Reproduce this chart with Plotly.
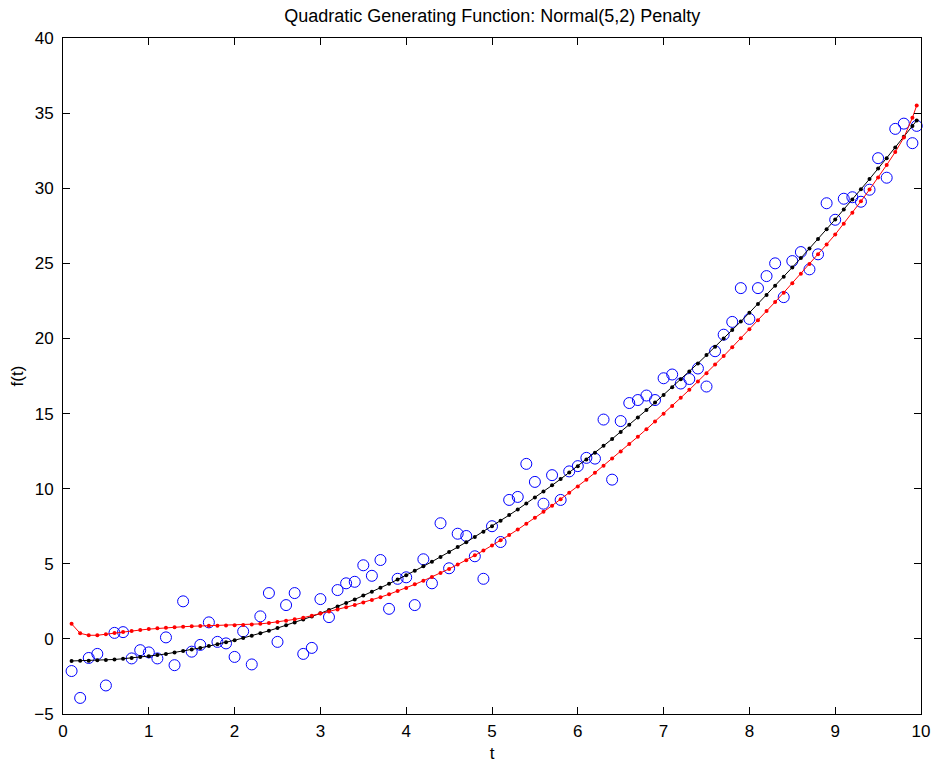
import plotly.graph_objects as go

t_vals = [round(0.1 * k, 2) for k in range(1, 100)] + [9.95]

observed = [
    -2.14, -3.93, -1.27, -1.00, -3.10, 0.40, 0.45, -1.30, -0.75, -0.90,
    -1.30, 0.10, -1.75, 2.50, -0.85, -0.40, 1.10, -0.20, -0.30, -1.20,
    0.50, -1.70, 1.50, 3.05, -0.20, 2.25, 3.05, -1.00, -0.60, 2.65,
    1.45, 3.25, 3.70, 3.80, 4.90, 4.20, 5.25, 2.00, 4.00, 4.10,
    2.25, 5.30, 3.70, 7.70, 4.70, 7.00, 6.85, 5.50, 4.00, 7.50,
    6.45, 9.25, 9.45, 11.65, 10.45, 9.00, 10.90, 9.25, 11.15, 11.50,
    12.05, 12.00, 14.60, 10.60, 14.50, 15.70, 15.90, 16.20, 15.90, 17.35,
    17.60, 17.00, 17.30, 18.00, 16.80, 19.15, 20.25, 21.10, 23.35, 21.30,
    23.35, 24.15, 25.00, 22.75, 25.15, 25.75, 24.60, 25.60, 29.00, 27.90,
    29.30, 29.40, 29.10, 29.90, 32.00, 30.70, 33.95, 34.30, 33.00, 34.15,
]

fit_plain = [
    -1.47, -1.46, -1.45, -1.43, -1.40, -1.37, -1.32, -1.27, -1.21, -1.15,
    -1.08, -1.00, -0.91, -0.81, -0.71, -0.60, -0.48, -0.36, -0.23, -0.09,
    0.06, 0.21, 0.37, 0.54, 0.72, 0.90, 1.09, 1.29, 1.49, 1.70,
    1.92, 2.15, 2.39, 2.63, 2.88, 3.13, 3.40, 3.67, 3.95, 4.23,
    4.53, 4.83, 5.14, 5.45, 5.78, 6.11, 6.44, 6.79, 7.14, 7.50,
    7.87, 8.24, 8.62, 9.01, 9.41, 9.81, 10.22, 10.64, 11.07, 11.50,
    11.94, 12.39, 12.85, 13.31, 13.78, 14.26, 14.74, 15.23, 15.73, 16.24,
    16.75, 17.28, 17.80, 18.34, 18.89, 19.44, 19.99, 20.56, 21.13, 21.71,
    22.30, 22.90, 23.50, 24.11, 24.73, 25.35, 25.98, 26.62, 27.27, 27.92,
    28.59, 29.25, 29.93, 30.61, 31.31, 32.00, 32.71, 33.42, 34.14, 34.51,
]

fit_penalty = [
    1.00, 0.37, 0.24, 0.24, 0.31, 0.39, 0.46, 0.53, 0.59, 0.65,
    0.70, 0.74, 0.78, 0.81, 0.84, 0.86, 0.87, 0.88, 0.89, 0.90,
    0.92, 0.95, 1.00, 1.06, 1.13, 1.21, 1.30, 1.41, 1.54, 1.69,
    1.82, 1.96, 2.11, 2.26, 2.42, 2.59, 2.78, 2.97, 3.18, 3.39,
    3.63, 3.87, 4.12, 4.38, 4.66, 4.95, 5.24, 5.56, 5.88, 6.21,
    6.56, 6.91, 7.28, 7.66, 8.06, 8.46, 8.87, 9.29, 9.72, 10.15,
    10.60, 11.06, 11.53, 12.00, 12.48, 12.97, 13.46, 13.96, 14.47, 14.99,
    15.51, 16.05, 16.58, 17.13, 17.69, 18.26, 18.83, 19.42, 20.01, 20.61,
    21.21, 21.82, 22.43, 23.05, 23.68, 24.31, 24.95, 25.60, 26.26, 26.92,
    27.64, 28.37, 29.13, 29.91, 30.71, 31.55, 32.41, 33.37, 34.69, 35.51,
]

x_ticks = [0, 1, 2, 3, 4, 5, 6, 7, 8, 9, 10]
y_ticks = [-5, 0, 5, 10, 15, 20, 25, 30, 35, 40]

FONT = "Liberation Sans, Arial, Helvetica, sans-serif"

fig = go.Figure()
fig.add_trace(go.Scatter(
    x=t_vals, y=observed, mode="markers",
    marker=dict(symbol="circle-open", size=11, color="#0000ff", line=dict(width=1)),
    showlegend=False, cliponaxis=False,
))
fig.add_trace(go.Scatter(
    x=t_vals, y=fit_plain, mode="lines+markers",
    line=dict(color="black", width=1),
    marker=dict(symbol="circle", size=4, color="black"),
    showlegend=False, cliponaxis=False,
))
fig.add_trace(go.Scatter(
    x=t_vals, y=fit_penalty, mode="lines+markers",
    line=dict(color="red", width=1),
    marker=dict(symbol="circle", size=4, color="red"),
    showlegend=False, cliponaxis=False,
))

axis_common = dict(
    showline=True, linecolor="black", linewidth=1, mirror="ticks",
    ticks="inside", ticklen=7, tickcolor="black", tickwidth=1,
    showgrid=False, zeroline=False, automargin=False,
    tickfont=dict(family=FONT, size=17, color="black"),
)

fig.update_layout(
    width=933, height=763,
    margin=dict(l=63, r=12, t=38, b=49, autoexpand=False),
    paper_bgcolor="white", plot_bgcolor="white",
    font=dict(family=FONT, color="black"),
    title=dict(text="Quadratic Generating Function: Normal(5,2) Penalty",
               x=0.5276, xanchor="center", y=1 - 16 / 763, yanchor="middle", yref="container",
               font=dict(family=FONT, size=18, color="black")),
    xaxis=dict(range=[0, 10], tickvals=x_ticks, ticktext=[str(v) for v in x_ticks],
               ticklabelstandoff=2,
               title=dict(text="t", font=dict(family=FONT, size=17), standoff=6),
               **axis_common),
    yaxis=dict(range=[-5, 40], tickvals=y_ticks,
               ticktext=[("\u2212" + str(-v)) if v < 0 else str(v) for v in y_ticks],
               ticklabelstandoff=5,
               title=dict(text="f(t)", font=dict(family=FONT, size=17), standoff=6),
               **axis_common),
)

fig.write_html("out.html")
